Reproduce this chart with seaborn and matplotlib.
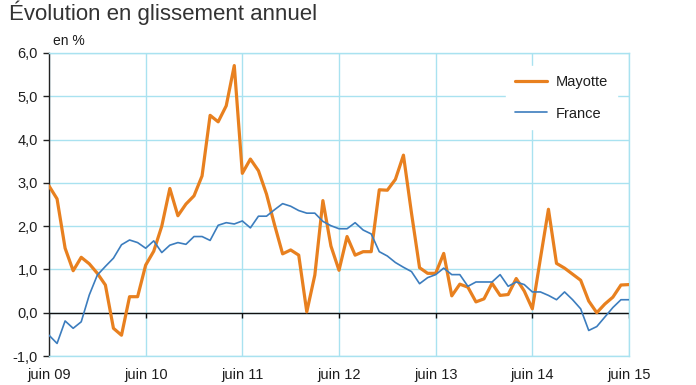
import numpy as np
import pandas as pd
import matplotlib
matplotlib.use("Agg")
import matplotlib.pyplot as plt
import seaborn as sns

# ---- data (monthly, juin 2009 -> juin 2015) ----
mayotte = [2.93, 2.63, 1.49, 0.97, 1.28, 1.13, 0.91, 0.64, -0.36, -0.52, 0.37, 0.37,
           1.10, 1.42, 2.00, 2.87, 2.24, 2.51, 2.70, 3.16, 4.56, 4.41, 4.78, 5.71,
           3.22, 3.55, 3.28, 2.74, 2.03, 1.36, 1.45, 1.33, 0.02, 0.87, 2.59, 1.54,
           0.98, 1.76, 1.33, 1.41, 1.41, 2.84, 2.83, 3.08, 3.64, 2.30, 1.04, 0.91,
           0.91, 1.37, 0.39, 0.66, 0.59, 0.25, 0.32, 0.68, 0.40, 0.42, 0.79, 0.50,
           0.09, 1.25, 2.39, 1.14, 1.03, 0.89, 0.75, 0.27, 0.00, 0.20, 0.36, 0.64,
           0.65]
france = [-0.52, -0.71, -0.19, -0.36, -0.21, 0.41, 0.87, 1.07, 1.26, 1.57, 1.68, 1.62,
          1.49, 1.66, 1.39, 1.56, 1.62, 1.58, 1.76, 1.76, 1.67, 2.02, 2.08, 2.05,
          2.12, 1.96, 2.23, 2.23, 2.38, 2.52, 2.46, 2.36, 2.30, 2.30, 2.11, 2.01,
          1.94, 1.94, 2.08, 1.91, 1.82, 1.41, 1.31, 1.16, 1.05, 0.95, 0.67, 0.81,
          0.88, 1.03, 0.88, 0.88, 0.61, 0.71, 0.71, 0.71, 0.88, 0.61, 0.71, 0.65,
          0.48, 0.48, 0.40, 0.30, 0.48, 0.30, 0.09, -0.41, -0.32, -0.10, 0.12, 0.30,
          0.30]
tick_labels = ["juin 09", "juin 10", "juin 11", "juin 12", "juin 13", "juin 14", "juin 15"]
y_ticks = [-1, 0, 1, 2, 3, 4, 5, 6]

months = np.arange(len(mayotte))
df = pd.DataFrame({
    "mois": np.concatenate([months, months]),
    "valeur": mayotte + france,
    "serie": ["Mayotte"] * len(mayotte) + ["France"] * len(france),
})
year_pos = np.arange(len(tick_labels)) * 12

sns.set_theme(style="white")
plt.rcParams["font.family"] = ["Liberation Sans", "DejaVu Sans"]

ORANGE = "#E8801F"
BLUE = "#3C7DBE"
GRID = "#A9E2F0"
TXT = "#1e1e1e"

fig = plt.figure(figsize=(6.96, 3.85), dpi=100)
ax = fig.add_axes([49 / 696, 1 - 356 / 385, 580 / 696, 303 / 385])

sns.lineplot(data=df[df.serie == "Mayotte"], x="mois", y="valeur", color=ORANGE,
             linewidth=2.3, label="Mayotte", ax=ax, zorder=3)
sns.lineplot(data=df[df.serie == "France"], x="mois", y="valeur", color=BLUE,
             linewidth=1.2, label="France", ax=ax, zorder=4)

ax.set_xlim(0, 72)
ax.set_ylim(-1, 6)
ax.set_xticks(year_pos)
ax.set_xticklabels(tick_labels)
ax.set_yticks(y_ticks)
ax.set_yticklabels([f"{v:.1f}".replace(".", ",") for v in y_ticks])
ax.set_xlabel("")
ax.set_ylabel("")

ax.grid(True, color=GRID, linewidth=1.0)
ax.set_axisbelow(True)
for s in ["top", "right", "bottom"]:
    ax.spines[s].set_color(GRID)
    ax.spines[s].set_linewidth(1.0)
ax.spines["left"].set_color("#222222")
ax.spines["left"].set_linewidth(1.0)

ax.axhline(0, color="#111111", linewidth=1.0, zorder=2)
ax.vlines(year_pos, -0.12, 0, color="#111111", linewidth=1.0, zorder=2)

ax.tick_params(axis="x", length=0, pad=9, labelsize=10.5, labelcolor=TXT)
ax.tick_params(axis="y", left=True, length=4, width=1, color="#222222", direction="out",
               pad=4, labelsize=10.5, labelcolor=TXT)

ax.text(0.007, 1.015, "en %", transform=ax.transAxes, fontsize=10, color=TXT,
        ha="left", va="bottom")
fig.text(9 / 696, 1 - 20 / 385, "Évolution en glissement annuel", fontsize=16,
         color="#333333", ha="left", va="baseline")

leg = ax.legend(loc="upper left", bbox_to_anchor=(0.775, 0.98), frameon=True,
                fontsize=10.5, handlelength=2.25, handletextpad=0.6, labelspacing=1.2,
                borderpad=0.6, fancybox=False)
leg.get_frame().set_facecolor("white")
leg.get_frame().set_edgecolor("white")
leg.get_frame().set_alpha(1)
for t in leg.get_texts():
    t.set_color(TXT)

fig.savefig("out.png", dpi=100, facecolor="white")
